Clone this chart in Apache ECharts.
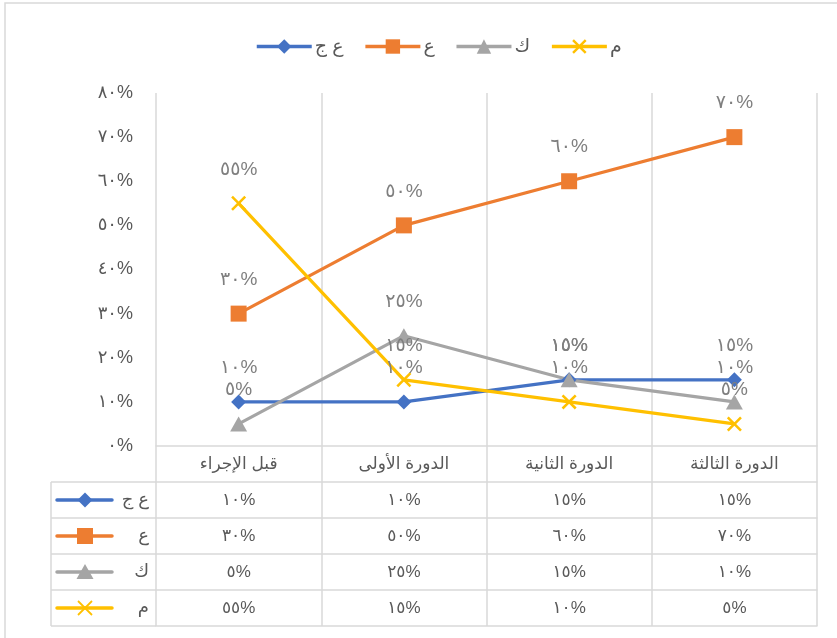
<!DOCTYPE html>
<html>
<head>
<meta charset="utf-8">
<script src="https://cdn.jsdelivr.net/npm/echarts@6/dist/echarts.min.js"></script>
<style>
html,body{margin:0;padding:0;background:#fff;}
#c{width:837px;height:638px;}
</style>
</head>
<body>
<div id="c"></div>
<script>
// ---- data ----
const categories = ['قبل الإجراء', 'الدورة الأولى', 'الدورة الثانية', 'الدورة الثالثة'];
const seriesNames = ['ع ج', 'ع', 'ك', 'م'];
const valuesAJ = [10, 10, 15, 15];
const valuesA = [30, 50, 60, 70];
const valuesK = [5, 25, 15, 10];
const valuesM = [55, 15, 10, 5];
const yMin = 0, yMax = 80, yInterval = 10;

// ---- styling / layout ----
const colors = ['#4472C4', '#ED7D31', '#A5A5A5', '#FFC000'];
const crossPath = 'path://M0,1.2L1.2,0L5,3.8L8.8,0L10,1.2L6.2,5L10,8.8L8.8,10L5,6.2L1.2,10L0,8.8L3.8,5Z';
const symbols = ['diamond', 'rect', 'triangle', crossPath];
const symbolSizes = [15, 16, [17, 15], 15];
const allValues = [valuesAJ, valuesA, valuesK, valuesM];
const FONT = "'Liberation Sans', 'DejaVu Sans', sans-serif";
const gridL = 156, gridR = 20, gridT = 93, gridB = 192;
const W = 837, H = 638;
const rowH = 36;
const baseY = H - gridB;
const tableLeft = 51;
const lineCol = '#d9d9d9';
const textCol = '#595959';

function toAr(v) {
  return String(v).replace(/\d/g, d => '٠١٢٣٤٥٦٧٨٩'[d]);
}
function pct(v) { return toAr(v) + '%'; }

const chart = echarts.init(document.getElementById('c'));

const xAxes = [{
  type: 'category', data: categories, boundaryGap: true, position: 'bottom',
  axisLine: {show: true, lineStyle: {color: lineCol, width: 1.5}},
  axisTick: {show: true, length: rowH, interval: 0, lineStyle: {color: lineCol, width: 1.5}},
  splitLine: {show: true, interval: 0, lineStyle: {color: lineCol, width: 1.5}},
  axisLabel: {interval: 0, margin: rowH / 2, verticalAlign: 'middle', color: textCol, fontSize: 17, fontFamily: FONT}
}];
allValues.forEach((vals, k) => {
  xAxes.push({
    type: 'category', data: categories, boundaryGap: true, position: 'bottom', offset: rowH * (k + 1),
    axisLine: {show: true, lineStyle: {color: lineCol, width: 1.5}},
    axisTick: {show: true, length: rowH, interval: 0, lineStyle: {color: lineCol, width: 1.5}},
    splitLine: {show: false},
    axisLabel: {interval: 0, margin: rowH / 2, verticalAlign: 'middle', color: textCol, fontSize: 17, fontFamily: FONT,
      formatter: (v, i) => pct(vals[i])}
  });
});
xAxes.push({
  type: 'category', data: categories, boundaryGap: true, position: 'bottom', offset: rowH * 5,
  axisLine: {show: true, lineStyle: {color: lineCol, width: 1.5}},
  axisTick: {show: false}, axisLabel: {show: false}, splitLine: {show: false}
});

// left column of the data table (legend keys + names)
const graphics = [{
  type: 'rect', silent: true,
  shape: {x: 5, y: 3, width: W + 10, height: H + 10},
  style: {fill: 'none', stroke: lineCol, lineWidth: 1.5}
}];
const rowsTop = baseY + rowH;
for (let r = 0; r <= 4; r++) {
  graphics.push({type: 'line', silent: true,
    shape: {x1: tableLeft, y1: rowsTop + r * rowH, x2: gridL, y2: rowsTop + r * rowH},
    style: {stroke: lineCol, lineWidth: 1.5}});
}
graphics.push({type: 'line', silent: true,
  shape: {x1: tableLeft, y1: rowsTop, x2: tableLeft, y2: rowsTop + 4 * rowH},
  style: {stroke: lineCol, lineWidth: 1.5}});
function markerShape(k, cx, cy) {
  const c = colors[k];
  if (k === 0) return {type: 'polygon', silent: true, shape: {points: [[cx, cy - 7.5], [cx + 7.5, cy], [cx, cy + 7.5], [cx - 7.5, cy]]}, style: {fill: c}};
  if (k === 1) return {type: 'rect', silent: true, shape: {x: cx - 8, y: cy - 8, width: 16, height: 16}, style: {fill: c}};
  if (k === 2) return {type: 'polygon', silent: true, shape: {points: [[cx, cy - 8], [cx + 8.5, cy + 7], [cx - 8.5, cy + 7]]}, style: {fill: c}};
  const s = 7;
  return {type: 'group', silent: true, children: [
    {type: 'line', shape: {x1: cx - s, y1: cy - s, x2: cx + s, y2: cy + s}, style: {stroke: c, lineWidth: 1.8}},
    {type: 'line', shape: {x1: cx - s, y1: cy + s, x2: cx + s, y2: cy - s}, style: {stroke: c, lineWidth: 1.8}}
  ]};
}
seriesNames.forEach((name, k) => {
  const cy = rowsTop + k * rowH + rowH / 2;
  graphics.push({type: 'line', silent: true, shape: {x1: tableLeft + 6, y1: cy, x2: tableLeft + 61, y2: cy},
    style: {stroke: colors[k], lineWidth: 3.5, lineCap: 'round'}});
  graphics.push(markerShape(k, tableLeft + 34, cy));
  graphics.push({type: 'text', silent: true, x: gridL - 7, y: cy,
    style: {text: name, fill: textCol, font: '18px ' + FONT, align: 'right', verticalAlign: 'middle'}});
});

const series = allValues.map((vals, k) => ({
  name: seriesNames[k], type: 'line', data: vals,
  symbol: symbols[k], symbolSize: symbolSizes[k], showAllSymbol: true,
  lineStyle: {color: colors[k], width: 3.2},
  itemStyle: {color: colors[k]},
  label: {show: true, position: 'inside', offset: [0, -34], formatter: p => pct(p.value),
    color: '#7f7f7f', fontSize: 19, fontFamily: FONT},
  emphasis: {disabled: true}
}));

chart.setOption({
  animation: false,
  backgroundColor: '#fff',
  textStyle: {fontFamily: FONT},
  legend: {
    top: 32, left: 250, itemWidth: 55, itemHeight: 18, itemGap: 20,
    data: seriesNames,
    lineStyle: {width: 3.5},
    textStyle: {fontSize: 19, color: textCol, fontFamily: FONT, padding: [0, 0, 0, -2]}
  },
  grid: {left: gridL, right: gridR, top: gridT, bottom: gridB, containLabel: false},
  xAxis: xAxes,
  yAxis: {
    type: 'value', min: yMin, max: yMax, interval: yInterval,
    axisLine: {show: false}, axisTick: {show: false}, splitLine: {show: false},
    axisLabel: {formatter: v => pct(v), margin: 23, color: textCol, fontSize: 18, fontFamily: FONT}
  },
  graphic: graphics,
  series: series
});
</script>
</body>
</html>
